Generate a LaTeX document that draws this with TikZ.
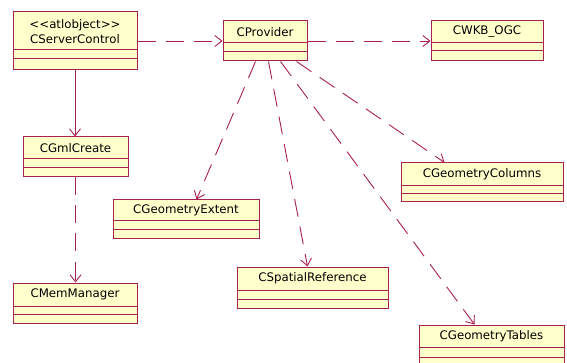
\documentclass[tikz,border=0pt]{standalone}
\usepackage{fontspec}
\setmainfont{DejaVu Sans}[Ligatures=TeXOff]
\usetikzlibrary{arrows.meta,calc}
\definecolor{umlborder}{RGB}{168,32,78}
\definecolor{umlfill}{RGB}{255,255,204}
\tikzset{
  cls/.style={draw=umlborder, fill=umlfill, line width=1pt, inner sep=0pt, rectangle},
  cline/.style={draw=umlborder, line width=1pt},
  lbl/.style={font=\fontsize{11.8}{14}\selectfont, inner sep=0pt, align=center, text=black},
  dep/.style={draw=umlborder, line width=0.9pt, dash pattern=on 18pt off 10pt,
    -{Straight Barb[length=7pt,width=11pt,line width=0.9pt]}},
  assoc/.style={draw=umlborder, line width=0.9pt,
    -{Straight Barb[length=7pt,width=11pt,line width=0.9pt]}}
}
% class box: name, x1, y1, x2, y2, first and second compartment line
\newcommand{\umlclass}[7]{%
  \node[cls, minimum width={#4pt-#2pt}, minimum height={#5pt-#3pt}]
    (#1) at ({(#2+#4)/2},{(#3+#5)/2}) {};
  \draw[cline] (#2,#6) -- (#4,#6);
  \draw[cline] (#2,#7) -- (#4,#7);
}
\begin{document}
\begin{tikzpicture}[x=1pt,y=-1pt]
\useasboundingbox (0,0) rectangle (567,363);

\umlclass{srv}{13}{12}{137}{70}{50}{59}
\node[lbl] (srvname) at (75,32) {<<atlobject>>\\[1pt]CServerControl};

\umlclass{prov}{223}{21}{307}{61}{43}{52}
\node[lbl] (provname) at (265,32) {CProvider};

\umlclass{wkb}{431}{21}{543}{61}{43}{51}
\node[lbl] (wkbname) at (487,32) {CWKB\_OGC};

\umlclass{gml}{23}{137}{128}{177}{159}{168}
\node[lbl] (gmlname) at (75.5,148) {CGmlCreate};

\umlclass{ext}{113}{200}{259}{239}{221}{230}
\node[lbl] (extname) at (186,210.5) {CGeometryExtent};

\umlclass{mem}{13}{283}{137}{323}{306}{314}
\node[lbl] (memname) at (75,294.5) {CMemManager};

\umlclass{spat}{237}{267}{388}{308}{290}{299}
\node[lbl] (spatname) at (312.5,278.5) {CSpatialReference};

\umlclass{col}{401}{163}{563}{202}{186}{194}
\node[lbl] (colname) at (482,174.5) {CGeometryColumns};

\umlclass{tab}{419}{325}{564}{372}{347}{357}
\node[lbl] (tabname) at (491.5,336) {CGeometryTables};

% dependencies and association
\draw[dep] (srv.east |- prov.west) -- (prov.west);
\draw[dep] (prov.east) -- (wkb.west);
\draw[assoc] (srv.south) -- (srv.south |- gml.north);
\draw[dep] (gml.south) -- (gml.south |- mem.north);
\draw[dep] ($(prov.south west)+(33,0)$) -- ($(ext.north west)+(84,0)$);
\draw[dep] ($(prov.south west)+(46,0)$) -- ($(spat.north west)+(71,0)$);
\draw[dep] ($(prov.south west)+(58,0)$) -- ($(tab.north west)+(56,0)$);
\draw[dep] ($(prov.south west)+(74,0)$) -- ($(col.north west)+(44,0)$);
\end{tikzpicture}
\end{document}
